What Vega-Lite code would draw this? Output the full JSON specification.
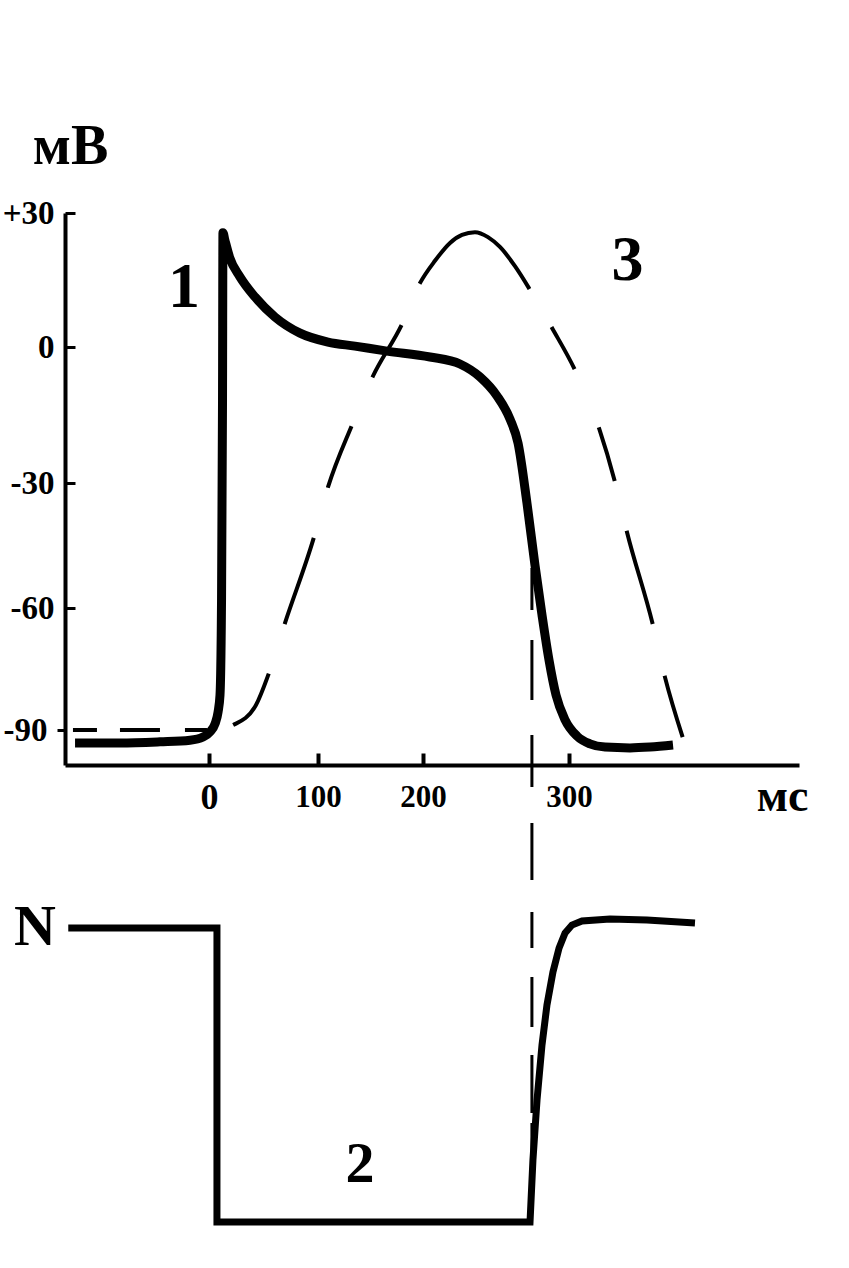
{
  "$schema": "https://vega.github.io/schema/vega-lite/v6.json",
  "width": 734,
  "height": 552,
  "autosize": {"type": "none"},
  "padding": {"left": 65, "top": 213, "right": 50, "bottom": 503},
  "background": "white",
  "config": {"view": {"stroke": null}, "font": "Liberation Serif"},
  "datasets": {
    "ap": [
      {"t": -122.8, "mV": -93.2}, {"t": -81.6, "mV": -93.2}, {"t": -44.9, "mV": -92.9}, {"t": -17.4, "mV": -92.5},
      {"t": -5.5, "mV": -91.7}, {"t": 0.9, "mV": -90.5}, {"t": 5.5, "mV": -88.5}, {"t": 8.3, "mV": -85.6},
      {"t": 10.1, "mV": -81.4}, {"t": 11.5, "mV": -58.1}, {"t": 12.4, "mV": -11.7}, {"t": 12.8, "mV": 25.6},
      {"t": 14.5, "mV": 24.0}, {"t": 19.0, "mV": 20.0}, {"t": 28.4, "mV": 15.7}, {"t": 42.2, "mV": 11.2},
      {"t": 60.6, "mV": 6.7}, {"t": 83.5, "mV": 3.1}, {"t": 109.5, "mV": 1.1}, {"t": 135.2, "mV": 0.2},
      {"t": 165.7, "mV": -0.9}, {"t": 204.8, "mV": -2.2}, {"t": 225.3, "mV": -3.75}, {"t": 239.0, "mV": -6.6},
      {"t": 250.7, "mV": -10.8}, {"t": 259.6, "mV": -15.9}, {"t": 265.1, "mV": -21.2}, {"t": 271.2, "mV": -34.8},
      {"t": 276.7, "mV": -49.7}, {"t": 281.5, "mV": -61.7}, {"t": 286.3, "mV": -72.8}, {"t": 291.1, "mV": -81.4},
      {"t": 297.3, "mV": -87.5}, {"t": 306.3, "mV": -91.5}, {"t": 316.4, "mV": -93.4}, {"t": 328.2, "mV": -94.2},
      {"t": 347.7, "mV": -94.4}, {"t": 363.4, "mV": -94.2}, {"t": 381.4, "mV": -93.7}
    ],
    "excit_mv": [
      {"t": -124.7, "mV": -90}, {"t": 5.5, "mV": -90}, {"t": 22.0, "mV": -88.8}, {"t": 42.2, "mV": -84.3},
      {"t": 55.0, "mV": -76.0}, {"t": 69.7, "mV": -63.7}, {"t": 96.3, "mV": -43.0}, {"t": 109.5, "mV": -31.0},
      {"t": 132.4, "mV": -17.2}, {"t": 152.4, "mV": -6.4}, {"t": 180.0, "mV": 5.1}, {"t": 197.1, "mV": 14.3},
      {"t": 208.2, "mV": 19.3}, {"t": 218.5, "mV": 23.3}, {"t": 226.7, "mV": 25.1}, {"t": 235.6, "mV": 25.7},
      {"t": 244.5, "mV": 24.6}, {"t": 252.7, "mV": 22.4}, {"t": 263.0, "mV": 18.1}, {"t": 273.3, "mV": 12.8},
      {"t": 288.4, "mV": 4.25}, {"t": 304.7, "mV": -5.1}, {"t": 323.5, "mV": -17.9}, {"t": 336.0, "mV": -29.8},
      {"t": 345.4, "mV": -41.8}, {"t": 365.7, "mV": -64.2}, {"t": 375.1, "mV": -77.0}, {"t": 389.2, "mV": -92.0}
    ],
    "excitability": [
      {"i": 0, "t": -129.0, "e": 1.0}, {"i": 1, "t": 7.3, "e": 1.0}, {"i": 2, "t": 7.3, "e": 0.0},
      {"i": 3, "t": 273.3, "e": 0.0}, {"i": 4, "t": 275.3, "e": 0.211}, {"i": 5, "t": 278.1, "e": 0.415},
      {"i": 6, "t": 281.5, "e": 0.602}, {"i": 7, "t": 284.9, "e": 0.738}, {"i": 8, "t": 289.0, "e": 0.85},
      {"i": 9, "t": 293.2, "e": 0.932}, {"i": 10, "t": 297.3, "e": 0.983}, {"i": 11, "t": 302.3, "e": 1.01},
      {"i": 12, "t": 310.2, "e": 1.024}, {"i": 13, "t": 332.1, "e": 1.031}, {"i": 14, "t": 361.0, "e": 1.027},
      {"i": 15, "t": 398.6, "e": 1.017}
    ],
    "marker_top": [{"t": 274.6, "mV": -50.4, "mV2": -98.6}],
    "marker_bottom": [{"t": 274.6, "e": 1.554, "e2": 0.22}],
    "labels_top": [{"label": "1", "t": -22.9, "mV": 13.2}, {"label": "3", "t": 345.8, "mV": 19.3}],
    "labels_bottom": [{"label": "2", "t": 140.0, "e": 0.194}, {"label": "N", "t": -159.5, "e": 1.0}]
  },
  "encoding": {
    "x": {
      "field": "t",
      "type": "quantitative",
      "scale": {"domain": [-132, 0, 100, 200, 300, 480], "range": [0, 144, 253, 358, 504, 734], "nice": false, "zero": false},
      "axis": {
        "values": [0, 100, 200, 300],
        "title": "мс",
        "titleX": 717,
        "titleY": 45,
        "titleAlign": "center",
        "titleBaseline": "alphabetic",
        "titleFont": "Liberation Serif",
        "titleFontSize": 46,
        "titleFontWeight": "bold",
        "titleColor": "black",
        "labelFont": "Liberation Serif",
        "labelFontSize": {"condition": {"test": "datum.value === 0", "value": 36}, "value": 31},
        "labelFontWeight": "bold",
        "labelColor": "black",
        "labelBaseline": "middle",
        "labelPadding": 44,
        "labelFlush": false,
        "labelOverlap": false,
        "tickSize": -12,
        "tickWidth": 4,
        "tickColor": "black",
        "domainColor": "black",
        "domainWidth": 4,
        "grid": false
      }
    }
  },
  "layer": [
    {
      "encoding": {
        "y": {
          "field": "mV",
          "type": "quantitative",
          "scale": {"domain": [-98.6, -90, -60, -30, 0, 30], "range": [552, 517, 395, 270, 134, 0], "nice": false, "zero": false},
          "axis": {
            "values": [30, 0, -30, -60, -90],
            "labelExpr": "datum.value > 0 ? '+' + datum.value : '' + datum.value",
            "title": "мВ",
            "titleAngle": 0,
            "titleX": 5,
            "titleY": -50,
            "titleAlign": "center",
            "titleBaseline": "alphabetic",
            "titleFont": "Liberation Serif",
            "titleFontSize": 56,
            "titleFontWeight": "bold",
            "titleColor": "black",
            "labelFont": "Liberation Serif",
            "labelFontSize": 33,
            "labelFontWeight": "bold",
            "labelColor": "black",
            "labelBaseline": "middle",
            "labelAlign": "right",
            "labelPadding": {"condition": {"test": "datum.value === -90", "value": 10}, "value": 21},
            "labelOverlap": false,
            "tickSize": {"condition": {"test": "datum.value === -90", "value": 8}, "value": -10},
            "tickWidth": 3,
            "tickColor": "black",
            "domainColor": "black",
            "domainWidth": 4,
            "grid": false
          }
        }
      },
      "layer": [
        {
          "data": {"name": "marker_top"},
          "mark": {"type": "rule", "color": "black", "strokeWidth": 3, "strokeDash": [42, 30, 60, 35, 100]},
          "encoding": {"y2": {"field": "mV2"}}
        },
        {
          "data": {"name": "excit_mv"},
          "mark": {"type": "line", "color": "black", "strokeWidth": 4, "interpolate": "monotone",
                   "strokeDash": [24, 23, 40, 25, 22, 27, 65, 52, 91, 52, 66, 53, 60, 45, 160, 44, 48, 63, 56, 51, 97, 53, 64, 300]}
        },
        {
          "data": {"name": "ap"},
          "mark": {"type": "line", "color": "black", "strokeWidth": 9, "interpolate": "monotone"}
        },
        {
          "data": {"name": "labels_top"},
          "mark": {"type": "text", "font": "Liberation Serif", "fontWeight": "bold", "fontSize": 64, "color": "black", "align": "center", "baseline": "middle"},
          "encoding": {"text": {"field": "label"}}
        }
      ]
    },
    {
      "encoding": {
        "y": {
          "field": "e",
          "type": "quantitative",
          "scale": {"domain": [0, 1], "range": [1009, 715], "nice": false, "zero": false},
          "axis": null
        }
      },
      "layer": [
        {
          "data": {"name": "marker_bottom"},
          "mark": {"type": "rule", "color": "black", "strokeWidth": 3, "strokeDash": [22, 36, 57, 32, 36, 29, 50, 28, 58, 10, 100]},
          "encoding": {"y2": {"field": "e2"}}
        },
        {
          "data": {"name": "excitability"},
          "mark": {"type": "line", "color": "black", "strokeWidth": 7, "interpolate": "linear"},
          "encoding": {"order": {"field": "i", "type": "quantitative"}}
        },
        {
          "data": {"name": "labels_bottom"},
          "mark": {"type": "text", "font": "Liberation Serif", "fontWeight": "bold", "fontSize": 58, "color": "black", "align": "center", "baseline": "middle"},
          "encoding": {"text": {"field": "label"}}
        }
      ]
    }
  ],
  "resolve": {"scale": {"y": "independent"}, "axis": {"y": "independent"}}
}
